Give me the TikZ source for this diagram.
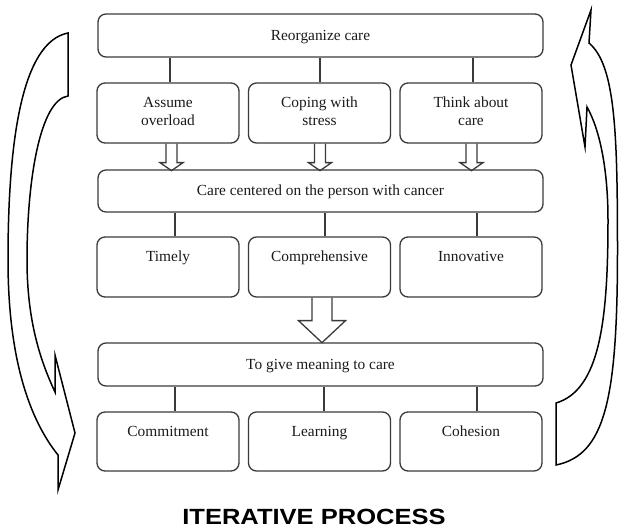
\documentclass[tikz,border=0pt]{standalone}
\usepackage{fontspec}
\usepackage{graphicx}
\setmainfont{Liberation Serif}
\newfontfamily\titlefont{Liberation Sans}
\definecolor{boxgray}{HTML}{3A3A3A}
\definecolor{txtgray}{HTML}{1A1A1A}
\begin{document}
\begin{tikzpicture}[x=1pt,y=-1pt,
  box/.style={draw=boxgray, line width=1.3pt, rounded corners=8pt, inner sep=0pt, minimum width=142pt, minimum height=60pt},
  bar/.style={box, minimum width=445pt, minimum height=43pt},
  lbl/.style={font=\fontsize{15.4}{18}\selectfont, text=txtgray, inner sep=0pt, anchor=base},
  conn/.style={draw=boxgray, line width=1.3pt},
  harrow/.style={draw=boxgray, line width=1.3pt, line join=miter},
  curv/.style={draw=black, line width=1.5pt, fill=white, line join=miter},
  smallarr/.pic={\draw[harrow] (-5.5,0) -- (-5.5,19) -- (-11.5,19) -- (0,27) -- (11.5,19) -- (5.5,19) -- (5.5,0);},
  bigarr/.pic={\draw[harrow] (-10,0) -- (-10,23) -- (-23.5,23) -- (0,45) -- (23.5,23) -- (10,23) -- (10,0);}]
\useasboundingbox (0,0) rectangle (619,529);

% boxes
\node[bar] (reorg) at (320.5,35.5) {};
\node[box] (assume) at (168,113) {};
\node[box] (coping) at (319.5,113) {};
\node[box] (think) at (471,113) {};
\node[bar, minimum height=42pt] (centered) at (320.5,191) {};
\node[box] (timely) at (168,267) {};
\node[box] (compr) at (319.5,267) {};
\node[box] (innov) at (471,267) {};
\node[bar] (meaning) at (320.5,364.5) {};
\node[box, minimum height=59pt] (commit) at (168,441.5) {};
\node[box, minimum height=59pt] (learn) at (319.5,441.5) {};
\node[box, minimum height=59pt] (cohes) at (471,441.5) {};

% labels
\node[lbl] (t-reorg) at ([yshift=-4.7pt]reorg.center) {Reorganize care};
\node[lbl] (t-assume) at ([yshift=-25.5pt]assume.north) {\begin{tabular}[t]{@{}c@{}}Assume\\overload\end{tabular}};
\node[lbl] (t-coping) at ([yshift=-25.5pt]coping.north) {\begin{tabular}[t]{@{}c@{}}Coping with\\stress\end{tabular}};
\node[lbl] (t-think) at ([yshift=-25.5pt]think.north) {\begin{tabular}[t]{@{}c@{}}Think about\\care\end{tabular}};
\node[lbl] (t-centered) at ([yshift=-4.5pt]centered.center) {Care centered on the person with cancer};
\node[lbl] (t-timely) at ([yshift=-25.5pt]timely.north) {Timely};
\node[lbl] (t-compr) at ([yshift=-25.5pt]compr.north) {Comprehensive};
\node[lbl] (t-innov) at ([yshift=-25.5pt]innov.north) {Innovative};
\node[lbl] (t-meaning) at ([yshift=-4.7pt]meaning.center) {To give meaning to care};
\node[lbl] (t-commit) at ([yshift=-25pt]commit.north) {Commitment};
\node[lbl] (t-learn) at ([yshift=-25pt]learn.north) {Learning};
\node[lbl] (t-cohes) at ([yshift=-25pt]cohes.north) {Cohesion};

% connectors
\path (assume.north) ++(2,0) coordinate (ca1);
\path (coping.north) ++(0.5,0) coordinate (ca2);
\path (think.north) ++(2,0) coordinate (ca3);
\draw[conn] (ca1) -- (ca1 |- reorg.south);
\draw[conn] (ca2) -- (ca2 |- reorg.south);
\draw[conn] (ca3) -- (ca3 |- reorg.south);
\path (timely.north) ++(7,0) coordinate (cb1);
\path (compr.north) ++(5.5,0) coordinate (cb2);
\path (innov.north) ++(6,0) coordinate (cb3);
\draw[conn] (cb1) -- (cb1 |- centered.south);
\draw[conn] (cb2) -- (cb2 |- centered.south);
\draw[conn] (cb3) -- (cb3 |- centered.south);
\path (commit.north) ++(7,0) coordinate (cc1);
\path (learn.north) ++(4.5,0) coordinate (cc2);
\path (cohes.north) ++(6,0) coordinate (cc3);
\draw[conn] (cc1) -- (cc1 |- meaning.south);
\draw[conn] (cc2) -- (cc2 |- meaning.south);
\draw[conn] (cc3) -- (cc3 |- meaning.south);

% hollow arrows
\pic at ([xshift=3.5pt]assume.south) {smallarr};
\pic at ([xshift=0.5pt]coping.south) {smallarr};
\pic at ([xshift=0.5pt]think.south) {smallarr};
\pic at ([xshift=2.5pt]compr.south) {bigarr};

% curved arrows
\draw[curv] (68,33) .. controls (22,42) and (8,140) .. (8,260)
  .. controls (8,360) and (30,420) .. (58,455) -- (58,490) -- (75,433) -- (55,355) -- (55,392)
  .. controls (40,360) and (27,320) .. (27,260)
  .. controls (27,180) and (40,100) .. (68,96) -- cycle;
\draw[curv] (591,10) -- (589,43) .. controls (615,65) and (617.5,130) .. (617.5,250)
  .. controls (617.5,400) and (605,455) .. (556,465) -- (556,403)
  .. controls (600,390) and (608,320) .. (608,220)
  .. controls (608,170) and (600,130) .. (587,107) -- (585,147) -- (571,65) -- cycle;

% title
\node[font=\titlefont\bfseries\fontsize{22}{26}\selectfont, anchor=base, inner sep=0pt] (title) at (314,524.5) {\scalebox{1.16}[1]{ITERATIVE PROCESS}};
\end{tikzpicture}
\end{document}
